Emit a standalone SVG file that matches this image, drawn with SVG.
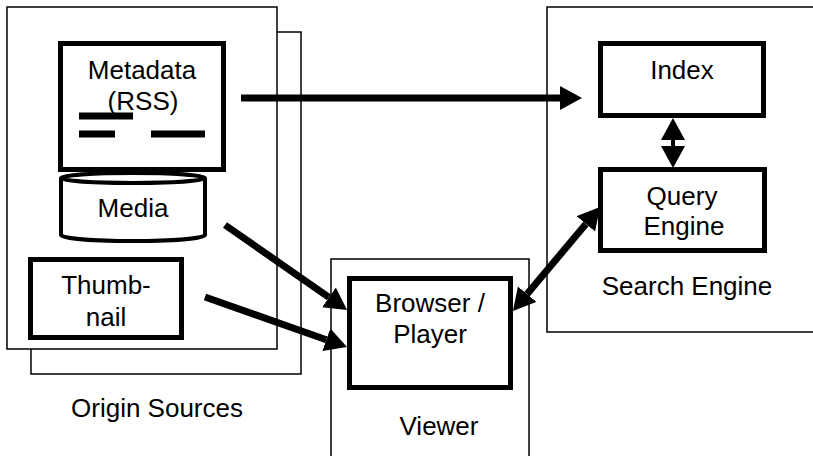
<svg xmlns="http://www.w3.org/2000/svg" width="813" height="456" viewBox="0 0 813 456">
<style>
.frame{fill:#fff;stroke:#000;stroke-width:1.5}
.node{fill:#fff;stroke:#000;stroke-width:5}
.t{font-family:"Liberation Sans",Arial,sans-serif;font-size:26px;fill:#000;text-anchor:middle}
.c{stroke:#000;stroke-width:7;fill:none}
</style>
<defs>
<marker id="ah" markerUnits="userSpaceOnUse" markerWidth="24" markerHeight="26" refX="0" refY="12" orient="auto-start-reverse">
<path d="M0,0 L22,12 L0,24 Z" fill="#000"/>
</marker>
</defs>
<rect width="813" height="456" fill="#fff"/>
<g id="origin-sources">
<rect class="frame" x="31" y="32" width="270" height="342"/>
<rect class="frame" x="7" y="7" width="270" height="342"/>
<text class="t" x="157" y="417">Origin Sources</text>
</g>
<g id="search-engine">
<rect class="frame" x="547" y="7" width="280" height="325"/>
<text class="t" x="687" y="295">Search Engine</text>
</g>
<g id="viewer">
<rect class="frame" x="331" y="259" width="198" height="210"/>
<text class="t" x="439" y="435">Viewer</text>
</g>
<g id="metadata">
<rect class="node" x="60.5" y="43.5" width="163" height="126"/>
<text class="t" x="142" y="79">Metadata</text>
<text class="t" x="143" y="110">(RSS)</text>
<g stroke="#000" stroke-width="7">
<line x1="79" y1="116" x2="133" y2="116"/>
<line x1="79" y1="134" x2="115" y2="134"/>
<line x1="151" y1="134" x2="205" y2="134"/>
</g>
</g>
<g id="media">
<path d="M61,178 L61,235 A72,6 0 0 0 205,235 L205,178" fill="#fff" stroke="#000" stroke-width="4"/>
<ellipse cx="133" cy="178" rx="72" ry="5" fill="#fff" stroke="#000" stroke-width="4"/>
<text class="t" x="133" y="217">Media</text>
</g>
<g id="thumbnail">
<rect class="node" x="30.5" y="259.5" width="151" height="78"/>
<text class="t" x="106" y="294">Thumb-</text>
<text class="t" x="106" y="326">nail</text>
</g>
<g id="index">
<rect class="node" x="600.5" y="43.5" width="163" height="72"/>
<text class="t" x="682" y="79">Index</text>
</g>
<g id="query-engine">
<rect class="node" x="600.5" y="169.5" width="164" height="81"/>
<text class="t" x="682" y="205">Query</text>
<text class="t" x="684" y="235">Engine</text>
</g>
<g id="browser-player">
<rect class="node" x="349.5" y="278.5" width="161" height="109"/>
<text class="t" x="430" y="312">Browser /</text>
<text class="t" x="430" y="343">Player</text>
</g>
<g id="connectors">
<line class="c" x1="241" y1="98" x2="560" y2="98" marker-end="url(#ah)"/>
<line class="c" x1="225" y1="225" x2="329" y2="297.4" marker-end="url(#ah)"/>
<line class="c" x1="205" y1="297" x2="326.3" y2="339.7" marker-end="url(#ah)"/>
<line class="c" x1="527.1" y1="294.1" x2="585.9" y2="223.9" marker-start="url(#ah)" marker-end="url(#ah)"/>
<line stroke="#000" stroke-width="4" x1="673" y1="140" x2="673" y2="146" marker-start="url(#ah)" marker-end="url(#ah)"/>
</g>
</svg>
